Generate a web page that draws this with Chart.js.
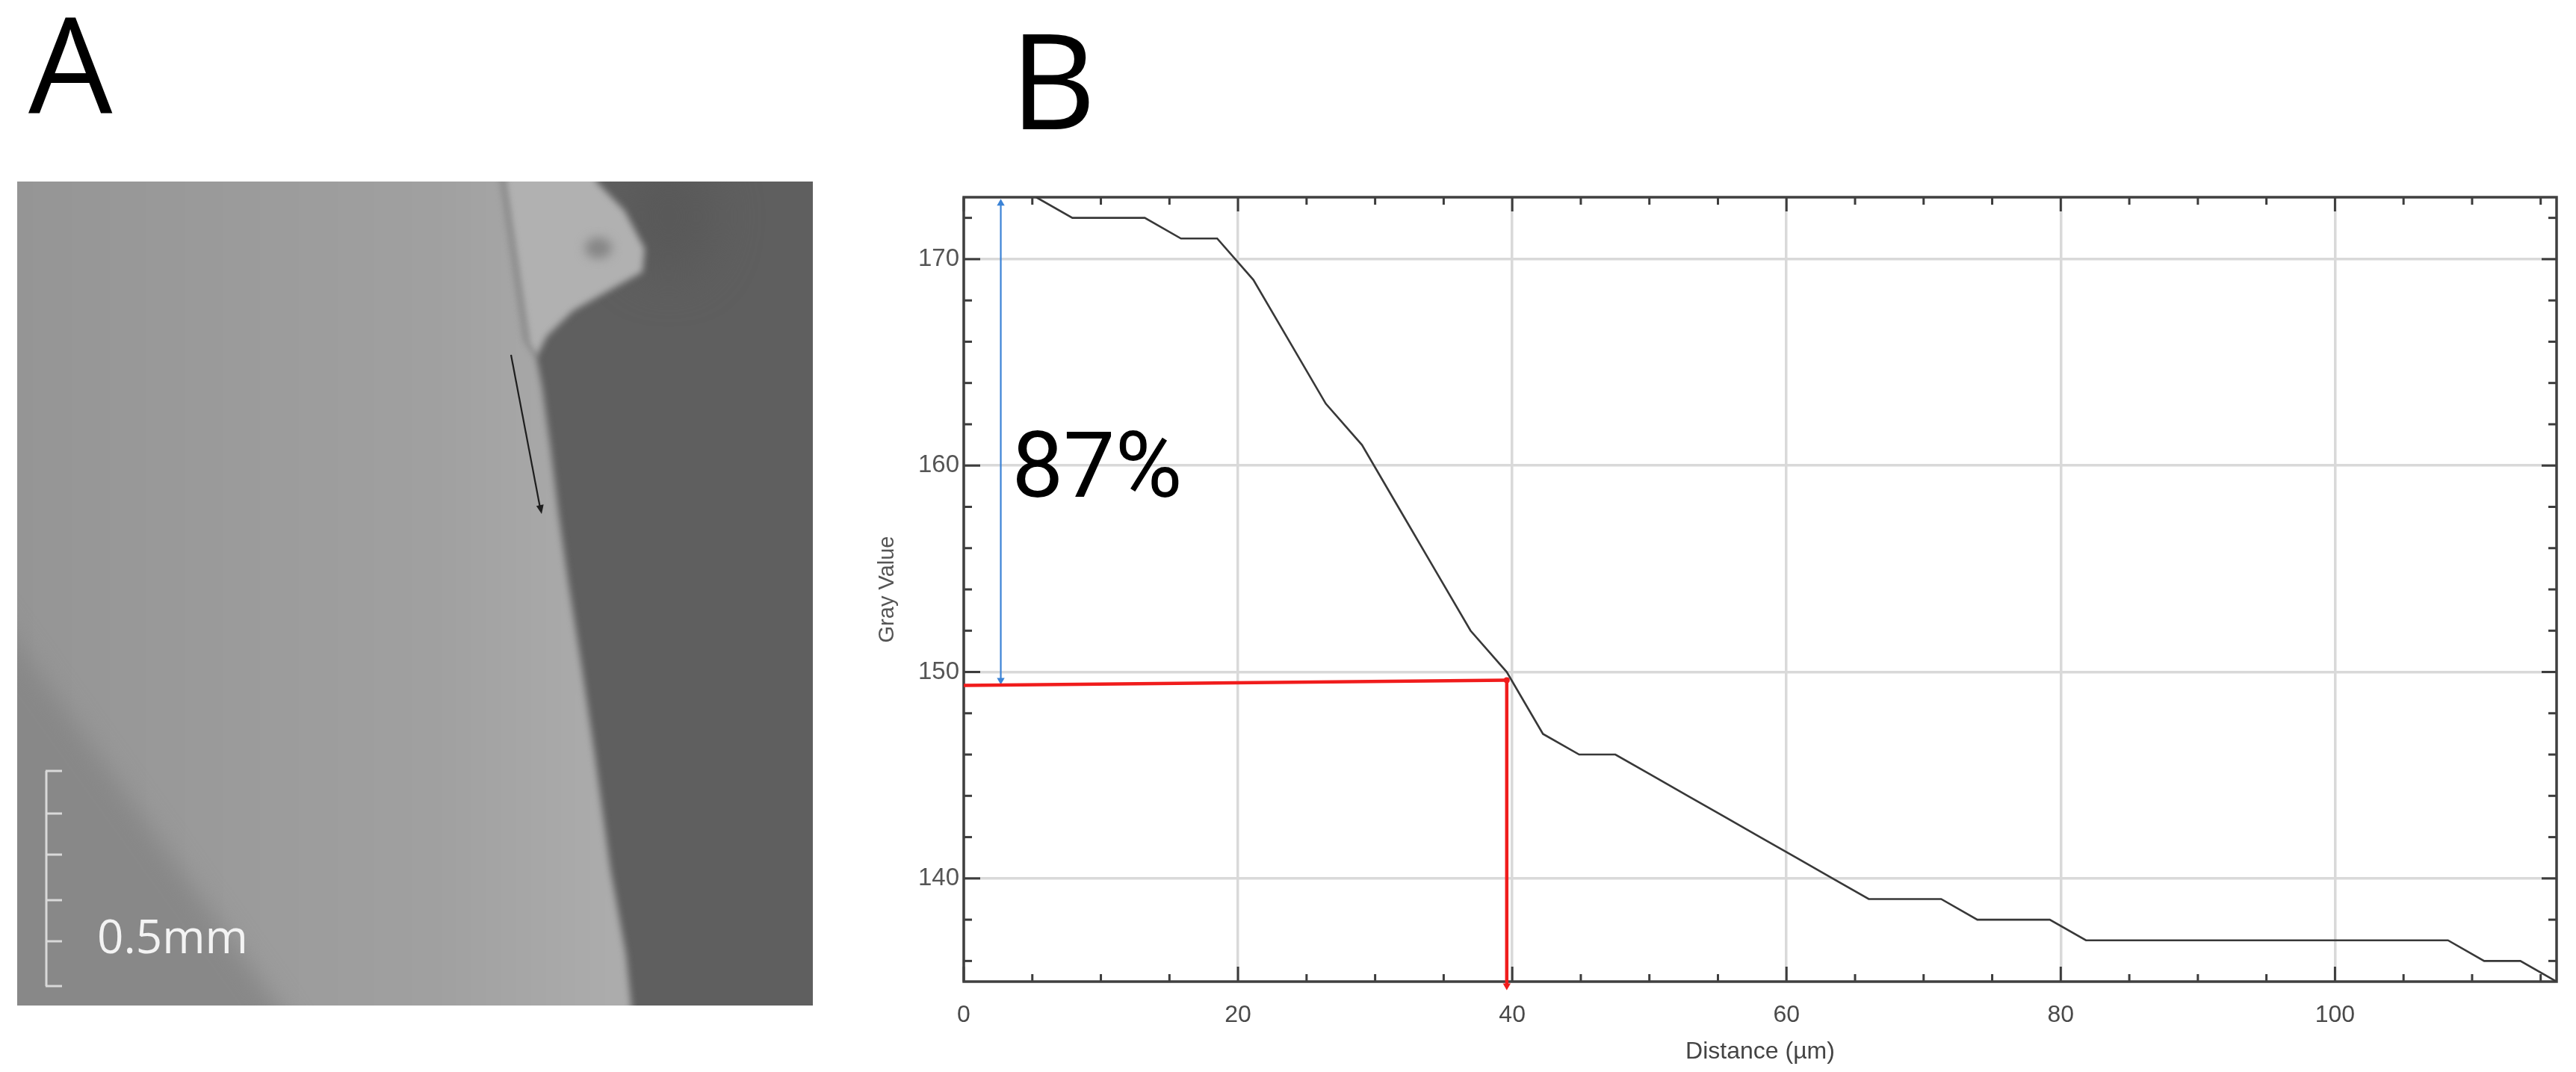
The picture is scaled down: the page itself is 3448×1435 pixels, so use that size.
<!DOCTYPE html>
<html><head><meta charset="utf-8">
<script src="https://cdn.jsdelivr.net/npm/chart.js@4"></script>
<style>html,body{margin:0;padding:0;background:#fff;overflow:hidden}canvas{display:block}</style>
</head><body>
<canvas id="c" width="3448" height="1435"></canvas>
<script>
// ---- data (panel B profile) ----
const distance = [5.28, 7.92, 10.56, 13.20, 15.84, 18.48, 21.12, 23.76, 26.40, 29.04, 31.68, 34.32, 36.96, 39.60,
  42.24, 44.88, 47.52, 50.16, 52.80, 55.44, 58.08, 60.72, 63.36, 66.00, 68.64, 71.28, 73.92, 76.56, 79.20,
  81.84, 84.48, 87.12, 89.76, 92.40, 95.04, 97.68, 100.32, 102.96, 105.60, 108.24, 110.88, 113.52, 116.16];
const grayValue = [173, 172, 172, 172, 171, 171, 169, 166, 163, 161, 158, 155, 152, 150,
  147, 146, 146, 145, 144, 143, 142, 141, 140, 139, 139, 139, 138, 138, 138,
  137, 137, 137, 137, 137, 137, 137, 137, 137, 137, 137, 136, 136, 135];
const xTickValues = [0, 20, 40, 60, 80, 100];
const yTickValues = [140, 150, 160, 170];
const xRange = [0, 116.16];
const yRange = [135, 173];
const redHorizontal = [[0, 149.35], [39.6, 149.6]];
const redVertical = [[39.6, 149.6], [39.6, 134.8]];
const blueSpan = [[2.7, 172.7], [2.7, 149.6]];
const percentLabel = '87%';
const percentAnchor = [3.5, 158.5];
const xTitle = 'Distance (µm)';
const yTitle = 'Gray Value';
const scaleBarLabel = '0.5mm';

const toPts = arr => arr.map(p => ({x: p[0], y: p[1]}));
const profile = distance.map((d, i) => ({x: d, y: grayValue[i]}));

function drawPanelA(ctx) {
  const L = 23, T = 243, R = 1088, B = 1346;
  ctx.save();
  ctx.beginPath(); ctx.rect(L, T, R - L, B - T); ctx.clip();
  ctx.fillStyle = '#5f5f5f'; ctx.fillRect(L, T, R - L, B - T);
  // slight darker shade right of bump
  ctx.filter = 'blur(30px)';
  ctx.fillStyle = '#595959';
  ctx.beginPath(); ctx.ellipse(895, 290, 60, 80, 0, 0, Math.PI * 2); ctx.fill();
  // main object
  ctx.filter = 'blur(5px)';
  const g = ctx.createLinearGradient(L, 0, 820, 0);
  g.addColorStop(0, '#959595'); g.addColorStop(0.7, '#a0a0a0'); g.addColorStop(1, '#acacac');
  ctx.fillStyle = g;
  ctx.beginPath();
  ctx.moveTo(-100, 150); ctx.lineTo(660, 150); ctx.lineTo(705, 457); ctx.lineTo(718, 478);
  [[726, 520], [737, 600], [748, 690], [760, 775], [779, 895], [796, 1010], [817, 1163], [838, 1278], [845, 1346], [848, 1460]]
    .forEach(p => ctx.lineTo(p[0], p[1]));
  ctx.lineTo(-100, 1460); ctx.closePath(); ctx.fill();
  // darker lower-left region
  ctx.filter = 'blur(16px)';
  ctx.fillStyle = '#888888';
  ctx.beginPath(); ctx.moveTo(-100, 690); ctx.lineTo(23, 860); ctx.lineTo(372, 1346); ctx.lineTo(450, 1470); ctx.lineTo(-100, 1470); ctx.closePath(); ctx.fill();
  // bump
  ctx.filter = 'blur(5px)';
  ctx.fillStyle = '#b1b1b1';
  ctx.beginPath();
  [[660, 150], [790, 150], [798, 243], [836, 282], [863, 333], [860, 364], [822, 385], [767, 416], [732, 450], [718, 478], [705, 457]]
    .forEach((p, i) => i ? ctx.lineTo(p[0], p[1]) : ctx.moveTo(p[0], p[1]));
  ctx.closePath(); ctx.fill();
  ctx.strokeStyle = '#8f8f8f'; ctx.lineWidth = 5;
  ctx.beginPath(); ctx.moveTo(660, 150); ctx.lineTo(705, 457); ctx.stroke();
  ctx.filter = 'blur(7px)';
  ctx.fillStyle = '#868686';
  ctx.beginPath(); ctx.ellipse(801, 332, 18, 14, 0, 0, Math.PI * 2); ctx.fill();
  ctx.filter = 'none';
  // arrow
  ctx.strokeStyle = '#1e1e1e'; ctx.fillStyle = '#1e1e1e'; ctx.lineWidth = 2.2;
  ctx.beginPath(); ctx.moveTo(684, 475); ctx.lineTo(723, 680); ctx.stroke();
  const ang = Math.atan2(688 - 475, 725 - 684);
  ctx.save(); ctx.translate(725, 688); ctx.rotate(ang);
  ctx.beginPath(); ctx.moveTo(0, 0); ctx.lineTo(-12, -5); ctx.lineTo(-12, 5); ctx.closePath(); ctx.fill();
  ctx.restore();
  // scale bar
  ctx.strokeStyle = '#d9d9d9'; ctx.lineWidth = 3;
  ctx.beginPath(); ctx.moveTo(62, 1032); ctx.lineTo(62, 1320); ctx.stroke();
  [1032, 1089, 1144, 1205, 1260, 1320].forEach(y => { ctx.beginPath(); ctx.moveTo(61, y); ctx.lineTo(83, y); ctx.stroke(); });
  ctx.fillStyle = '#f3f3f3';
  ctx.font = '62px "Open Sans"'; ctx.textBaseline = 'alphabetic'; ctx.textAlign = 'left';
  ctx.fillText(scaleBarLabel, 130, 1276);
  ctx.restore();
  // panel letters
  ctx.save();
  ctx.fillStyle = '#000'; ctx.font = '178px "Open Sans"'; ctx.textBaseline = 'alphabetic'; ctx.textAlign = 'left';
  ctx.fillText('A', 38, 151);
  ctx.fillText('B', 1352, 173);
  ctx.restore();
}

const panelPlugin = {
  id: 'panelA',
  beforeDraw(chart) { drawPanelA(chart.ctx); }
};

const framePlugin = {
  id: 'frame',
  beforeDatasetsDraw(chart) {
    const ctx = chart.ctx, a = chart.chartArea, xs = chart.scales.x, ys = chart.scales.y;
    ctx.save();
    ctx.strokeStyle = '#3c3c3c'; ctx.lineWidth = 3;
    const xMinor = [], yMinor = [];
    for (let v = 5; v < xRange[1]; v += 5) if (v % 20) xMinor.push(v);
    for (let v = 136; v < yRange[1]; v += 2) if (v % 10) yMinor.push(v);
    const tick = (x1, y1, x2, y2) => { ctx.beginPath(); ctx.moveTo(x1, y1); ctx.lineTo(x2, y2); ctx.stroke(); };
    xTickValues.forEach(v => { const p = xs.getPixelForValue(v); tick(p, a.bottom, p, a.bottom - 20); tick(p, a.top, p, a.top + 19); });
    xMinor.forEach(v => { const p = xs.getPixelForValue(v); tick(p, a.bottom, p, a.bottom - 10); tick(p, a.top, p, a.top + 10); });
    yTickValues.forEach(v => { const p = ys.getPixelForValue(v); tick(a.left, p, a.left + 22, p); tick(a.right, p, a.right - 20, p); });
    yMinor.forEach(v => { const p = ys.getPixelForValue(v); tick(a.left, p, a.left + 11, p); tick(a.right, p, a.right - 11, p); });
    ctx.lineWidth = 3.5; ctx.strokeStyle = '#404040';
    ctx.strokeRect(a.left, a.top, a.right - a.left, a.bottom - a.top);
    ctx.restore();
  },
  afterDatasetsDraw(chart) {
    const ctx = chart.ctx, xs = chart.scales.x, ys = chart.scales.y;
    ctx.save();
    ctx.fillStyle = '#000'; ctx.font = '123px Roboto';
    ctx.textBaseline = 'alphabetic'; ctx.textAlign = 'left';
    ctx.fillText(percentLabel, xs.getPixelForValue(percentAnchor[0]), ys.getPixelForValue(percentAnchor[1]));
    ctx.restore();
  }
};

function build() {
  const tickFont = {family: 'Liberation Sans', size: 32};
  new Chart(document.getElementById('c'), {
    type: 'line',
    data: {
      datasets: [
        {data: profile, borderColor: '#383838', borderWidth: 2.6, pointRadius: 0, tension: 0, fill: false},
        {data: toPts(redHorizontal), borderColor: '#f01c1c', borderWidth: 4.5, pointRadius: 0, fill: false, clip: false},
        {data: toPts(redVertical), borderColor: '#f01c1c', borderWidth: 4.5, fill: false, clip: false,
          pointStyle: ['circle', 'triangle'], pointRotation: [0, 180], pointRadius: [4, 6],
          pointBackgroundColor: '#f01c1c', pointBorderWidth: 0},
        {data: toPts(blueSpan), borderColor: '#3b83d6', borderWidth: 2.2, fill: false, clip: false,
          pointStyle: 'triangle', pointRotation: [0, 180], pointRadius: 6,
          pointBackgroundColor: '#3b83d6', pointBorderWidth: 0}
      ]
    },
    options: {
      responsive: false, animation: false, devicePixelRatio: 1, events: [],
      plugins: {legend: {display: false}, tooltip: {enabled: false}},
      layout: {padding: {left: 1150, top: 264, right: 26, bottom: 0}},
      scales: {
        x: {
          type: 'linear', min: xRange[0], max: xRange[1],
          afterBuildTicks: s => { s.ticks = xTickValues.map(v => ({value: v})); },
          afterFit: s => { s.height = 121; },
          grid: {color: '#d9d9d9', lineWidth: 3.5, drawTicks: false},
          border: {display: false},
          ticks: {padding: 26, color: '#4a4a4a', font: tickFont},
          title: {display: true, text: xTitle, color: '#444', font: {family: 'Liberation Sans', size: 32}, padding: {top: 0, bottom: 8}}
        },
        y: {
          type: 'linear', min: yRange[0], max: yRange[1],
          afterBuildTicks: s => { s.ticks = yTickValues.map(v => ({value: v})); },
          afterFit: s => { s.width = 140; },
          grid: {color: '#d9d9d9', lineWidth: 3.5, drawTicks: false},
          border: {display: false},
          ticks: {padding: 6, color: '#555', font: {family: 'Liberation Sans', size: 33}},
          title: {display: true, text: yTitle, color: '#555', font: {family: 'Liberation Sans', size: 29}, padding: {top: 21, bottom: 0}}
        }
      }
    },
    plugins: [panelPlugin, framePlugin]
  });
}
Promise.all([
  document.fonts.load('178px "Open Sans"'),
  document.fonts.load('123px Roboto'),
  document.fonts.load('32px "Liberation Sans"')
]).then(build, build);
</script>
</body></html>
